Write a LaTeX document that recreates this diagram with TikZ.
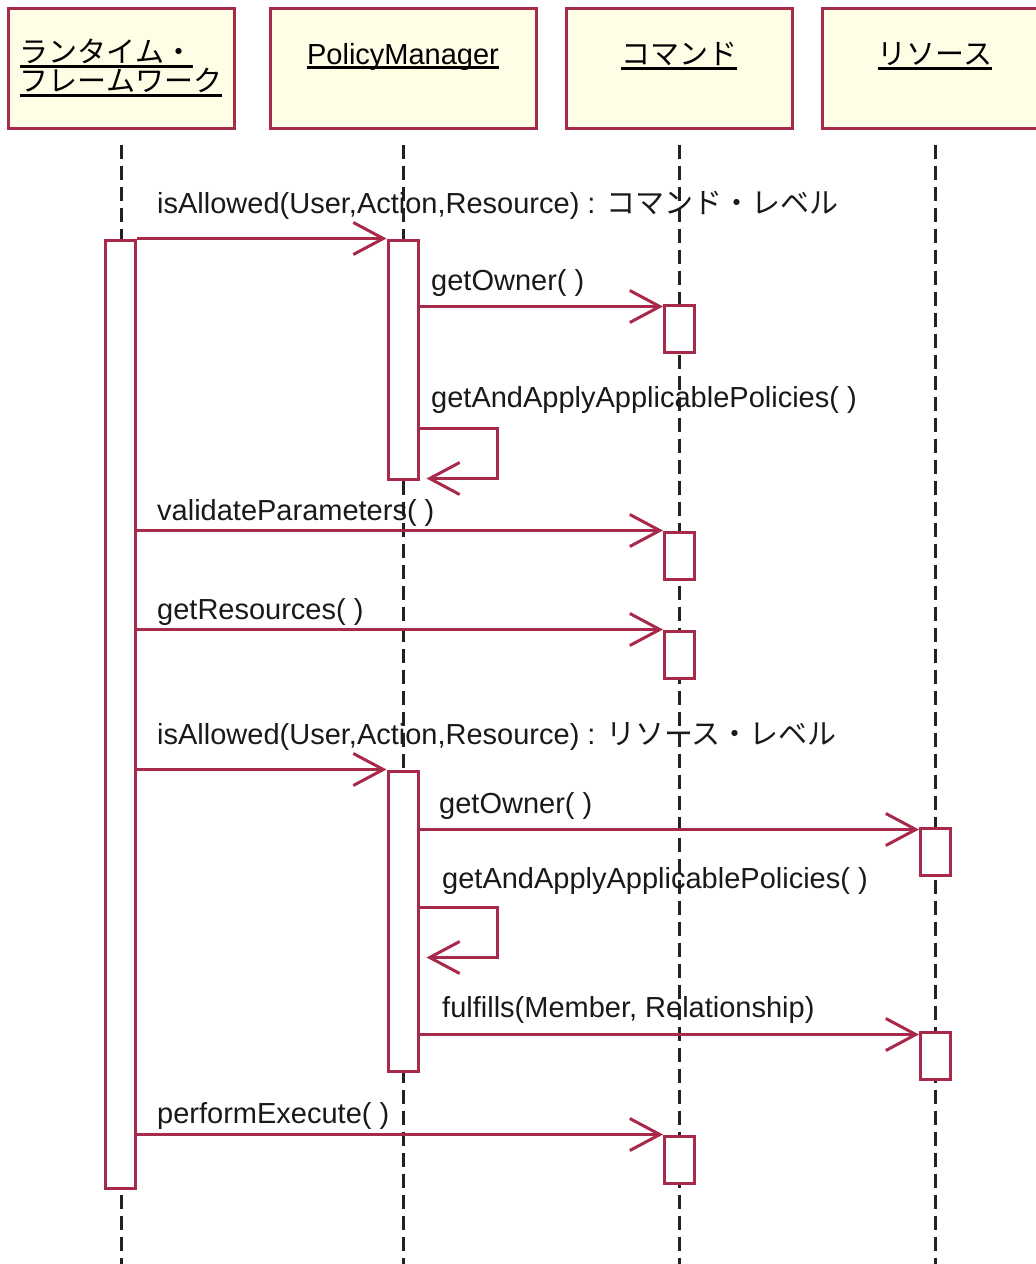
\documentclass[tikz,border=0pt]{standalone}
\usepackage{fontspec}
\setmainfont{Liberation Sans}
\newfontfamily\jp{Noto Sans CJK JP}
\usetikzlibrary{arrows.meta}
\definecolor{umlred}{RGB}{168, 42, 74}
\definecolor{umlfill}{RGB}{255, 253, 230}
\definecolor{lifegray}{RGB}{34, 34, 34}
% underline at a fixed depth under the baseline
\newcommand{\hdul}[1]{\setbox0\hbox{#1}\rlap{\rule[-5pt]{\wd0}{2.6pt}}\box0}

\begin{document}
\begin{tikzpicture}[
    x=1pt, y=-1pt,
    font=\fontsize{29}{29}\selectfont,
    head/.style={rectangle, draw=umlred, fill=umlfill, line width=3pt,
                 minimum width=226pt, minimum height=120pt, align=center, inner sep=0pt},
    act/.style={rectangle, draw=umlred, fill=white, line width=3pt,
                minimum width=30pt, inner sep=0pt},
    msg/.style={-{Straight Barb[length=30pt, width=32pt, line width=3pt]}, umlred, line width=3pt},
    life/.style={lifegray, line width=3pt, dash pattern=on 14pt off 7pt},
    lbl/.style={anchor=west, inner sep=0pt, text=black!90}
  ]
  \path[use as bounding box, clip] (0,0) rectangle (1036,1264);
  \coordinate (bot) at (0,1264);

  % objects
  \node[head, align=left] (rt) at (121,68) {\hdul{\jp ランタイム・}\\\hdul{\jp フレームワーク}};
  \node[head, minimum width=266pt] (pm) at (403,68) {\hdul{PolicyManager}\\\mbox{}};
  \node[head] (cmd) at (679,68) {\hdul{\jp コマンド}\\\mbox{}};
  \node[head] (res) at (935,68) {\hdul{\jp リソース}\\\mbox{}};

  % lifelines
  \draw[life] ([yshift=-15pt]rt.south) -- (rt |- bot);
  \draw[life] ([yshift=-15pt]pm.south) -- (pm |- bot);
  \draw[life] ([yshift=-15pt]cmd.south) -- (cmd |- bot);
  \draw[life] ([yshift=-15pt]res.south) -- (res |- bot);

  % activations
  \node[act, minimum height=948pt] (a0) at (120,714) {};
  \node[act, minimum height=239pt] (p1) at (403,359.5) {};
  \node[act, minimum height=300pt] (p2) at (403,921) {};
  \node[act, minimum height=47pt] (c1) at (679.5,328.5) {};
  \node[act, minimum height=47pt] (c2) at (679.5,555.5) {};
  \node[act, minimum height=47pt] (c3) at (679.5,654.5) {};
  \node[act, minimum height=47pt] (c4) at (679.5,1159.5) {};
  \node[act, minimum height=47pt] (r1) at (935.5,851.5) {};
  \node[act, minimum height=47pt] (r2) at (935.5,1055.5) {};

  % messages
  \draw[msg] (a0.east |- p1.north) -- (p1.north west);
  \draw[msg] ([yshift=-3pt]p1.east |- c1.north) -- ([yshift=-3pt]c1.north west);
  \draw[msg] ([yshift=52pt]p1.south east) -- ++(78,0) |- ([xshift=7pt,yshift=2pt]p1.south east);
  \draw[msg] (a0.east |- c2.north) -- (c2.north west);
  \draw[msg] (a0.east |- c3.north) -- (c3.north west);
  \draw[msg] (a0.east |- p2.north) -- (p2.north west);
  \draw[msg] ([yshift=-3pt]p2.east |- r1.north) -- ([yshift=-3pt]r1.north west);
  \draw[msg] ([yshift=-138pt]p2.north east) -- ++(78,0) |- ([xshift=7pt,yshift=-188pt]p2.north east);
  \draw[msg] ([yshift=-4pt]p2.east |- r2.north) -- ([yshift=-4pt]r2.north west);
  \draw[msg] (a0.east |- c4.north) -- (c4.north west);

  % message labels
  \node[lbl] (l1) at (157,205) {isAllowed(User,Action,Resource) : {\jp コマンド・レベル}};
  \node[lbl] (l2) at (431,283) {getOwner( )};
  \node[lbl] (l3) at (431,400) {getAndApplyApplicablePolicies( )};
  \node[lbl] (l4) at (157,513) {validateParameters( )};
  \node[lbl] (l5) at (157,612) {getResources( )};
  \node[lbl] (l6) at (157,736) {isAllowed(User,Action,Resource) : {\jp リソース・レベル}};
  \node[lbl] (l7) at (439,806) {getOwner( )};
  \node[lbl] (l8) at (442,881) {getAndApplyApplicablePolicies( )};
  \node[lbl] (l9) at (442,1010) {fulfills(Member, Relationship)};
  \node[lbl] (l10) at (157,1116) {performExecute( )};
\end{tikzpicture}
\end{document}
